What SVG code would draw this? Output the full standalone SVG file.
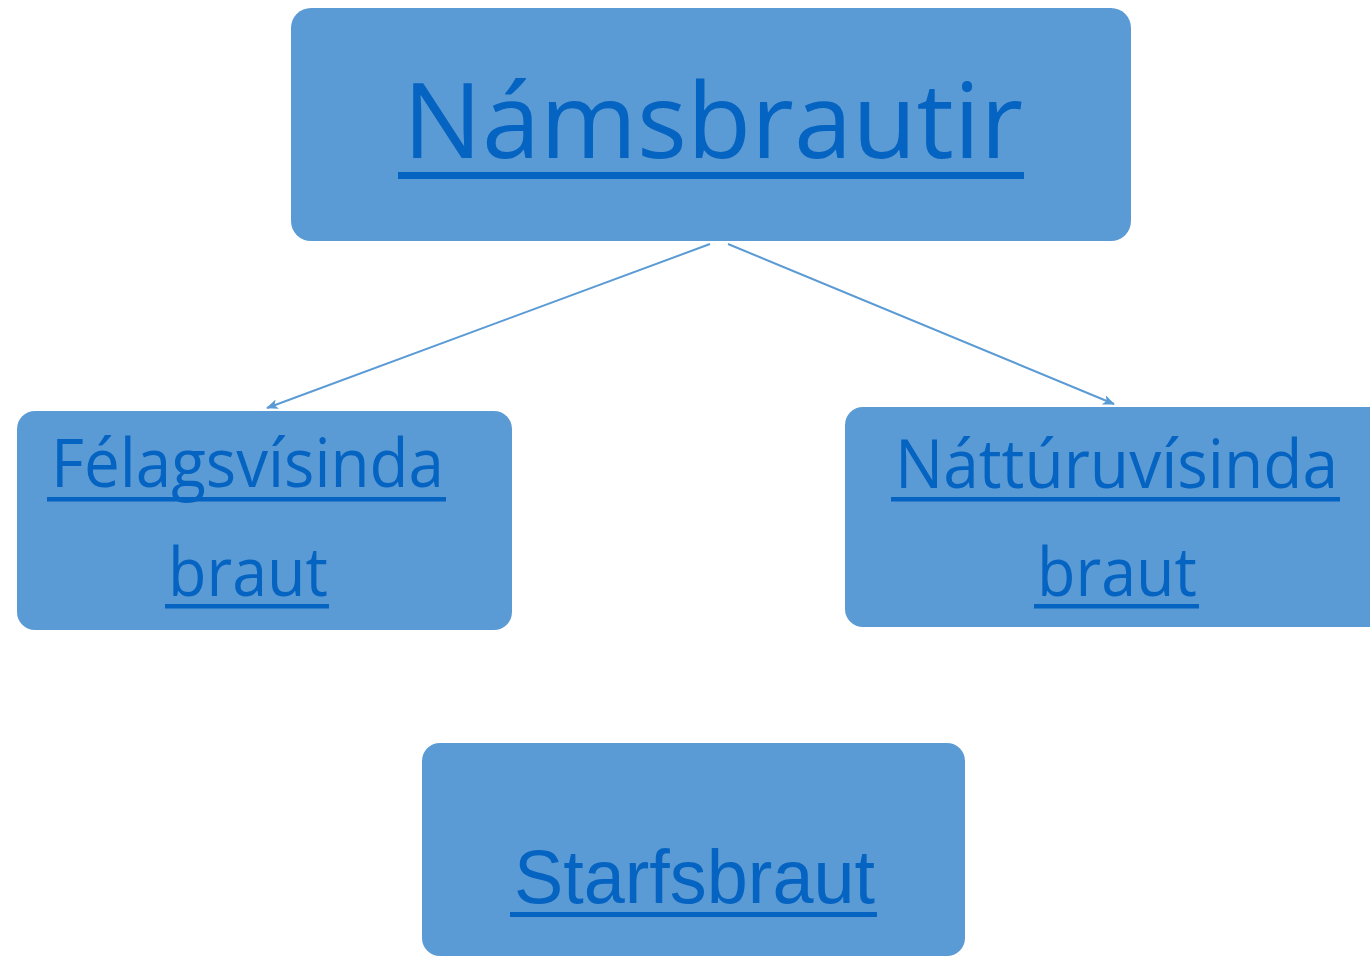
<svg xmlns="http://www.w3.org/2000/svg" width="1370" height="957" viewBox="0 0 1370 957">
  <style>
    .box { fill: #5B9BD5; }
    .lbl { fill: #0563C1; font-family: "Open Sans", "Noto Sans", sans-serif; }
    .lbl2 { fill: #0563C1; font-family: "Liberation Sans", Arial, sans-serif; }
    .ul { fill: #0563C1; }
    .conn { stroke: #5B9BD5; stroke-width: 2; fill: none; }
  </style>
  <defs>
    <marker id="arr" viewBox="0 0 12 10" refX="11" refY="5" markerWidth="12" markerHeight="10" markerUnits="userSpaceOnUse" orient="auto">
      <path d="M0,0 L12,5 L0,10 L3,5 Z" fill="#5B9BD5"/>
    </marker>
  </defs>
  <rect width="1370" height="957" fill="#FFFFFF"/>
  <g id="connectors">
    <line class="conn" x1="710" y1="244" x2="267" y2="408" marker-end="url(#arr)"/>
    <line class="conn" x1="728" y1="244" x2="1114" y2="404" marker-end="url(#arr)"/>
  </g>
  <g id="node-namsbrautir">
    <rect class="box" x="291" y="8" width="840" height="233" rx="20"/>
    <text class="lbl" x="403" y="158" font-size="105" textLength="620" lengthAdjust="spacingAndGlyphs">Námsbrautir</text>
    <rect class="ul" x="398" y="172" width="626" height="7"/>
  </g>
  <g id="node-felags">
    <rect class="box" x="17" y="411" width="495" height="219" rx="18"/>
    <text class="lbl" x="51" y="487" font-size="67" textLength="393" lengthAdjust="spacingAndGlyphs">Félagsvísinda</text>
    <rect class="ul" x="47" y="497" width="399" height="4.5"/>
    <text class="lbl" x="168" y="596" font-size="67" textLength="160" lengthAdjust="spacingAndGlyphs">braut</text>
    <rect class="ul" x="165" y="604" width="164" height="4.5"/>
  </g>
  <g id="node-natturu">
    <rect class="box" x="845" y="407" width="560" height="220" rx="18"/>
    <text class="lbl" x="895" y="488" font-size="67" textLength="443" lengthAdjust="spacingAndGlyphs">Náttúruvísinda</text>
    <rect class="ul" x="891" y="497" width="449" height="4.5"/>
    <text class="lbl" x="1037" y="596" font-size="67" textLength="160" lengthAdjust="spacingAndGlyphs">braut</text>
    <rect class="ul" x="1034" y="604" width="165" height="4.5"/>
  </g>
  <g id="node-starfsbraut">
    <rect class="box" x="422" y="743" width="543" height="213" rx="18"/>
    <text class="lbl2" x="514" y="903" font-size="76" textLength="361" lengthAdjust="spacingAndGlyphs">Starfsbraut</text>
    <rect class="ul" x="510" y="912" width="367" height="5"/>
  </g>
</svg>
